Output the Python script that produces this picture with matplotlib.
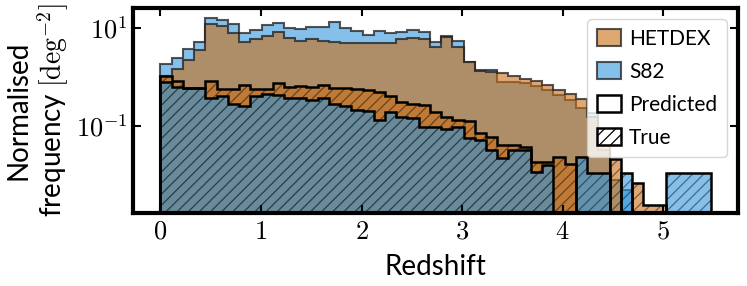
import numpy as np
import matplotlib
matplotlib.use('Agg')
import matplotlib.pyplot as plt
from matplotlib.patches import Patch
from matplotlib.colors import to_rgba
from matplotlib.ticker import FixedLocator, FixedFormatter, NullLocator

plt.rcParams['font.family'] = ['Lato', 'DejaVu Sans']
plt.rcParams['mathtext.fontset'] = 'cm'
plt.rcParams['hatch.linewidth'] = 0.9

# ---------------- data ----------------
bin_edges = np.linspace(0.0, 5.47, 50)

s82_pred = [1.842, 2.408, 3.675, 5.108, 16.0, 14.57, 11.9, 8.02, 9.10, 11.51,
            12.83, 9.86, 9.41, 10.73, 10.48, 13.26, 9.86, 8.68, 7.20, 8.81,
            7.79, 8.17, 9.10, 8.40, 5.18, 6.77, 5.51, 2.052, 1.389, 1.389,
            0.802, 0.802, 0.744, 0.655, 0.543, 0.429, 0.339, 0.233, 0.184, 0.0324,
            0.0079, 0.00494, 0, 0, 0, 0, 0, 0, 0]

hetdex_pred = [1.073, 1.457, 2.223, 3.556, 12.07, 10.98, 8.02, 5.108, 5.88, 6.87,
               8.28, 6.16, 5.43, 6.02, 5.43, 5.25, 4.94, 4.87, 4.87, 5.01,
               4.94, 5.88, 6.25, 5.88, 4.09, 6.71, 4.09, 2.052, 1.326, 1.247,
               1.190, 1.048, 0.898, 0.840, 0.687, 0.543, 0.443, 0.351, 0.153, 0.0518,
               0, 0, 0, 0, 0, 0, 0, 0, 0]

hetdex_true = [1.063, 0.829, 0.605, 0.611, 0.817, 0.569, 0.569, 0.703, 0.582, 0.569,
               0.754, 0.634, 0.671, 0.625, 0.687, 0.611, 0.588, 0.574, 0.543, 0.501,
               0.413, 0.313, 0.281, 0.268, 0.193, 0.153, 0.131, 0.128, 0.0720, 0.0605,
               0.0410, 0.0410, 0.0378, 0.0187, 0.0184, 0.0236, 0.0168, 0, 0, 0,
               0.0212, 0, 0.00687, 0.00244, 0.00244, 0, 0, 0, 0]

s82_true = [0.802, 0.634, 0.588, 0.596, 0.382, 0.410, 0.277, 0.260, 0.410, 0.450,
            0.429, 0.367, 0.373, 0.339, 0.367, 0.277, 0.262, 0.217, 0.202, 0.133,
            0.196, 0.155, 0.149, 0.0968, 0.0941, 0.0881, 0.0977, 0.0561, 0.0530, 0.0324,
            0.0219, 0.0324, 0.0324, 0.0114, 0.0160, 0, 0, 0.0236, 0.0110, 0.0110,
            0, 0.0110, 0, 0, 0, 0.0110, 0.0110, 0.0110, 0.0110]

x_ticks = [0, 1, 2, 3, 4, 5]
x_tick_labels = [r'$0$', r'$1$', r'$2$', r'$3$', r'$4$', r'$5$']
y_ticks = [1e-1, 1e1]
y_tick_labels = [r'$10^{-1}$', r'$10^{1}$']

legend_labels = ['HETDEX', 'S82', 'Predicted', 'True']

# ---------------- style ----------------
HETDEX_C = '#ca6e14'
S82_C = '#3296dc'
ALPHA = 0.6
pred_edge = (0.12, 0.12, 0.12, 0.75)
hatch_edge = (0, 0, 0, 0.45)

fig = plt.figure(figsize=(7.47, 2.86), dpi=100)
ax = fig.add_axes([0.178, 0.255, 0.810, 0.717])

centers = 0.5 * (bin_edges[:-1] + bin_edges[1:])

# predicted
ax.hist(centers, bins=bin_edges, weights=s82_pred, histtype='stepfilled',
        facecolor=to_rgba(S82_C, ALPHA), edgecolor=pred_edge, linewidth=1.5, log=True)
ax.hist(centers, bins=bin_edges, weights=hetdex_pred, histtype='stepfilled',
        facecolor=to_rgba(HETDEX_C, ALPHA), edgecolor=pred_edge, linewidth=1.5, log=True)
# true
ax.hist(centers, bins=bin_edges, weights=hetdex_true, histtype='stepfilled',
        facecolor=to_rgba(HETDEX_C, ALPHA), edgecolor=hatch_edge, linewidth=0,
        hatch='///', log=True)
ax.hist(centers, bins=bin_edges, weights=hetdex_true, histtype='step',
        color='black', linewidth=1.8, log=True)
ax.hist(centers, bins=bin_edges, weights=s82_true, histtype='stepfilled',
        facecolor=to_rgba(S82_C, ALPHA), edgecolor=hatch_edge, linewidth=0,
        hatch='///', log=True)
ax.hist(centers, bins=bin_edges, weights=s82_true, histtype='step',
        color='black', linewidth=1.8, log=True)

ax.set_yscale('log')
ax.set_xlim(-0.2735, 5.7435)
ax.set_ylim(0.001676, 25.6)

ax.xaxis.set_major_locator(FixedLocator(x_ticks))
ax.xaxis.set_major_formatter(FixedFormatter(x_tick_labels))
ax.xaxis.set_minor_locator(NullLocator())
ax.yaxis.set_major_locator(FixedLocator(y_ticks))
ax.yaxis.set_major_formatter(FixedFormatter(y_tick_labels))
ax.yaxis.set_minor_locator(NullLocator())

ax.tick_params(which='major', direction='in', top=True, right=True,
               length=6, width=1.5, labelsize=19, pad=4)
for sp in ax.spines.values():
    sp.set_linewidth(3)

ax.set_xlabel('Redshift', fontsize=20)
ax.xaxis.set_label_coords(0.5, -0.20)
ax.set_ylabel('Normalised\nfrequency $[\\mathrm{deg}^{-2}]$', fontsize=20,
              linespacing=1.15)
ax.yaxis.set_label_coords(-0.103, 0.5)

handles = [
    Patch(facecolor=to_rgba(HETDEX_C, ALPHA), edgecolor=pred_edge, linewidth=1.5),
    Patch(facecolor=to_rgba(S82_C, ALPHA), edgecolor=pred_edge, linewidth=1.5),
    Patch(facecolor='white', edgecolor='black', linewidth=1.8),
    Patch(facecolor='white', edgecolor='black', linewidth=1.8, hatch='///'),
]
ax.legend(handles=handles, labels=legend_labels, loc='upper right', fontsize=15,
          handlelength=1.15, handleheight=0.9, handletextpad=0.4, labelspacing=0.62,
          borderpad=0.45, borderaxespad=0.55, framealpha=0.8)

fig.savefig('out.png', dpi=100)
